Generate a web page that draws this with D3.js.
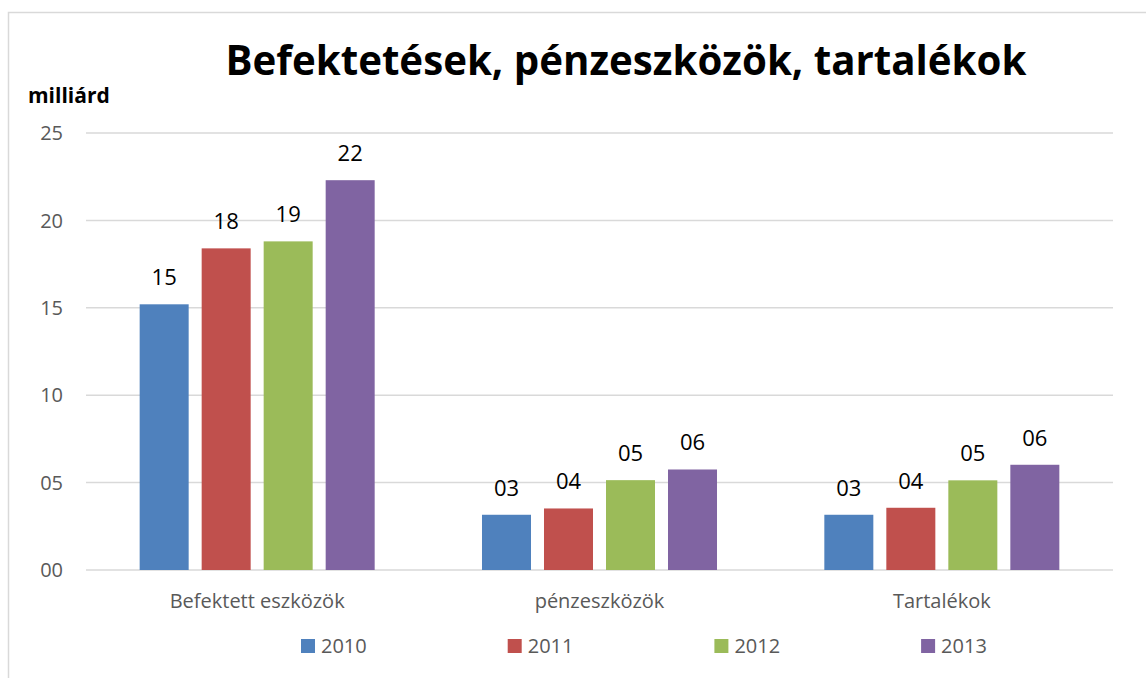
<!DOCTYPE html>
<html lang='hu'>
<head>
    <meta charset='UTF-8'>
    <title>Befektetések, pénzeszközök, tartalékok</title>
    <style>
        html, body {
            margin: 0;
            padding: 0;
            background: #fff;
        }
        svg {
            display: block;
            font-family: 'Open Sans', sans-serif;
        }
        .grid line {
            stroke: #d9d9d9;
            stroke-width: 1.5px;
        }
        .tick-label, .cat-label, .legend text {
            fill: #595959;
        }
    </style>
</head>
<body>
    <div id="chart"></div>
    <script src='https://d3js.org/d3.v7.min.js'></script>
    <script>
        // data
        const categories = ['Befektett eszközök', 'pénzeszközök', 'Tartalékok']
        const years = ['2010', '2011', '2012', '2013']
        const values2010 = [15.2, 3.16, 3.16]
        const values2011 = [18.4, 3.52, 3.56]
        const values2012 = [18.8, 5.14, 5.13]
        const values2013 = [22.3, 5.75, 6.02]
        const yTicks = [0, 5, 10, 15, 20, 25]
        const colors = ['#4f81bd', '#c0504d', '#9bbb59', '#8064a2']

        const series = [values2010, values2011, values2012, values2013]

        const width = 1146
        const height = 678
        const plot = { left: 86, right: 1113, top: 133, bottom: 570 }

        const svg = d3.select('#chart')
            .append('svg')
            .attr('width', width)
            .attr('height', height)

        // chart border (only top and left are visible in the frame)
        svg.append('path')
            .attr('d', `M8.5,${height} V12.5 H${width}`)
            .attr('fill', 'none')
            .attr('stroke', '#d9d9d9')
            .attr('stroke-width', 1.5)

        const x0 = d3.scaleBand()
            .domain(categories)
            .range([plot.left, plot.right])
            .paddingInner(0.3135)
            .paddingOuter(0.3135 / 2)

        const x1 = d3.scaleBand()
            .domain(years)
            .range([0, x0.bandwidth()])
            .paddingInner(13 / 62)

        const y = d3.scaleLinear()
            .domain([0, 25])
            .range([plot.bottom, plot.top])

        const fmt = d3.format('02.0f')

        // gridlines
        svg.append('g')
            .attr('class', 'grid')
            .selectAll('line')
            .data(yTicks)
            .join('line')
            .attr('x1', plot.left)
            .attr('x2', plot.right)
            .attr('y1', d => y(d))
            .attr('y2', d => y(d))

        // y tick labels
        svg.append('g')
            .selectAll('text')
            .data(yTicks)
            .join('text')
            .attr('class', 'tick-label')
            .attr('x', 63)
            .attr('y', d => y(d))
            .attr('dy', '0.36em')
            .attr('text-anchor', 'end')
            .style('font-size', '20px')
            .text(d => fmt(d))

        // bars
        const groups = svg.append('g')
            .selectAll('g')
            .data(categories)
            .join('g')
            .attr('transform', d => `translate(${x0(d)},0)`)

        groups.selectAll('rect')
            .data((c, ci) => years.map((yr, si) => ({ yr, si, v: series[si][ci] })))
            .join('rect')
            .attr('x', d => x1(d.yr))
            .attr('width', x1.bandwidth())
            .attr('y', d => y(d.v))
            .attr('height', d => y(0) - y(d.v))
            .attr('fill', d => colors[d.si])

        // data labels
        groups.selectAll('text')
            .data((c, ci) => years.map((yr, si) => ({ yr, si, v: series[si][ci] })))
            .join('text')
            .attr('x', d => x1(d.yr) + x1.bandwidth() / 2)
            .attr('y', d => y(d.v) - 19)
            .attr('text-anchor', 'middle')
            .attr('fill', '#000')
            .style('font-size', '22px')
            .text(d => fmt(d.v))

        // category labels
        svg.append('g')
            .selectAll('text')
            .data(categories)
            .join('text')
            .attr('class', 'cat-label')
            .attr('x', d => x0(d) + x0.bandwidth() / 2)
            .attr('y', 608)
            .attr('text-anchor', 'middle')
            .style('font-size', '20px')
            .text(d => d)

        // title
        const title = svg.append('text')
            .attr('x', 626)
            .attr('y', 75)
            .attr('text-anchor', 'middle')
            .attr('fill', '#000')
            .style('font-size', '40px')
            .style('font-weight', 'bold')
            .text('Befektetések, pénzeszközök, tartalékok')
        const tw = title.node().getComputedTextLength()
        title.style('font-size', (40 * 801 / tw) + 'px')

        // axis unit
        svg.append('text')
            .attr('x', 28)
            .attr('y', 103)
            .attr('fill', '#000')
            .style('font-size', '21px')
            .style('font-weight', 'bold')
            .text('milliárd')

        // legend
        const legend = svg.append('g')
            .attr('class', 'legend')
            .selectAll('g')
            .data(years)
            .join('g')
            .attr('transform', (d, i) => `translate(${301 + i * 206.7},639)`)

        legend.append('rect')
            .attr('width', 14)
            .attr('height', 14)
            .attr('fill', (d, i) => colors[i])

        legend.append('text')
            .attr('x', 20)
            .attr('y', 14)
            .style('font-size', '20px')
            .text(d => d)
    </script>
</body>
</html>
